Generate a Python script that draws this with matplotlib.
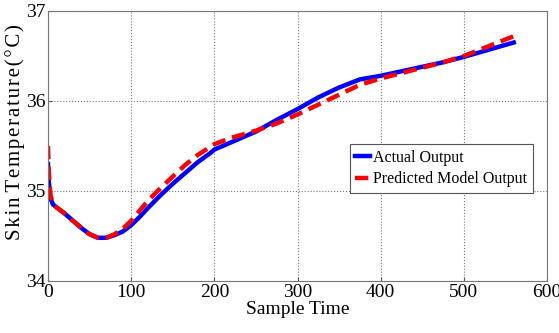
import numpy as np
import matplotlib
matplotlib.use("Agg")
import matplotlib.pyplot as plt

plt.rcParams['font.family'] = ['Liberation Serif', 'DejaVu Serif']

# sample time vs skin temperature
t_actual = [0, 1, 3, 6, 10, 20, 30, 40, 50, 60, 70, 80, 90, 100, 110, 120, 135,
            150, 165, 180, 195, 200, 220, 250, 275, 300, 325, 350, 375, 400,
            425, 450, 475, 500, 530, 560]
y_actual = [35.3, 35.1, 34.92, 34.85, 34.82, 34.75, 34.67, 34.59, 34.52, 34.48,
            34.48, 34.51, 34.55, 34.62, 34.71, 34.81, 34.95, 35.08, 35.2, 35.32,
            35.42, 35.46, 35.54, 35.66, 35.79, 35.91, 36.04, 36.15, 36.24, 36.28,
            36.33, 36.38, 36.43, 36.49, 36.57, 36.65]

t_pred = [0, 1, 3, 6, 10, 20, 30, 40, 50, 60, 70, 80, 90, 100, 110, 120, 135,
          150, 165, 180, 195, 200, 220, 250, 275, 300, 325, 350, 375, 400,
          425, 450, 475, 500, 530, 560]
y_pred = [35.5, 35.2, 34.95, 34.86, 34.82, 34.75, 34.67, 34.59, 34.52, 34.48,
          34.48, 34.52, 34.58, 34.67, 34.78, 34.89, 35.03, 35.16, 35.29, 35.4,
          35.49, 35.52, 35.59, 35.67, 35.75, 35.85, 35.96, 36.07, 36.18, 36.25,
          36.31, 36.37, 36.43, 36.5, 36.61, 36.72]

x_ticks = [0, 100, 200, 300, 400, 500, 600]
y_ticks = [34, 35, 36, 37]

fig = plt.figure(figsize=(5.59, 3.33), dpi=100)
ax = fig.add_axes([48/559, 1 - 281/333, 499/559, 270/333])

ax.plot(t_actual, y_actual, color='#0000ff', lw=3.2, label='Actual Output')
ax.plot(t_pred, y_pred, color='#ff0000', lw=3.2, ls=(0, (3, 1.6)),
        label='Predicted Model Output')

ax.set_xlim(0, 600)
ax.set_ylim(34, 37)
ax.set_xticks(x_ticks)
ax.set_yticks(y_ticks)
ax.tick_params(direction='in', length=3, labelsize=14, color='#555555', pad=2)
ax.grid(True, ls=':', color='#777777', lw=0.8)
for s in ax.spines.values():
    s.set_color('#777777')

ax.set_xlabel('Sample Time', fontsize=14, labelpad=0)
ylab = '\u200a'.join('Skin') + ' ' + '\u200a'.join('Temperature(\u00b0C)')
ax.set_ylabel(ylab, fontsize=15)
ax.yaxis.set_label_coords(-0.046, 0.55)

leg = ax.legend(loc='lower left', bbox_to_anchor=(0.605, 0.326, 0.371, 0.2),
                fontsize=11.5, handlelength=0.9, handletextpad=0.2,
                borderpad=0.35, labelspacing=0.35, fancybox=False,
                framealpha=1, borderaxespad=0)
leg.get_frame().set_edgecolor('#555555')
leg.get_frame().set_linewidth(0.8)

fig.savefig('out.png', dpi=100)
